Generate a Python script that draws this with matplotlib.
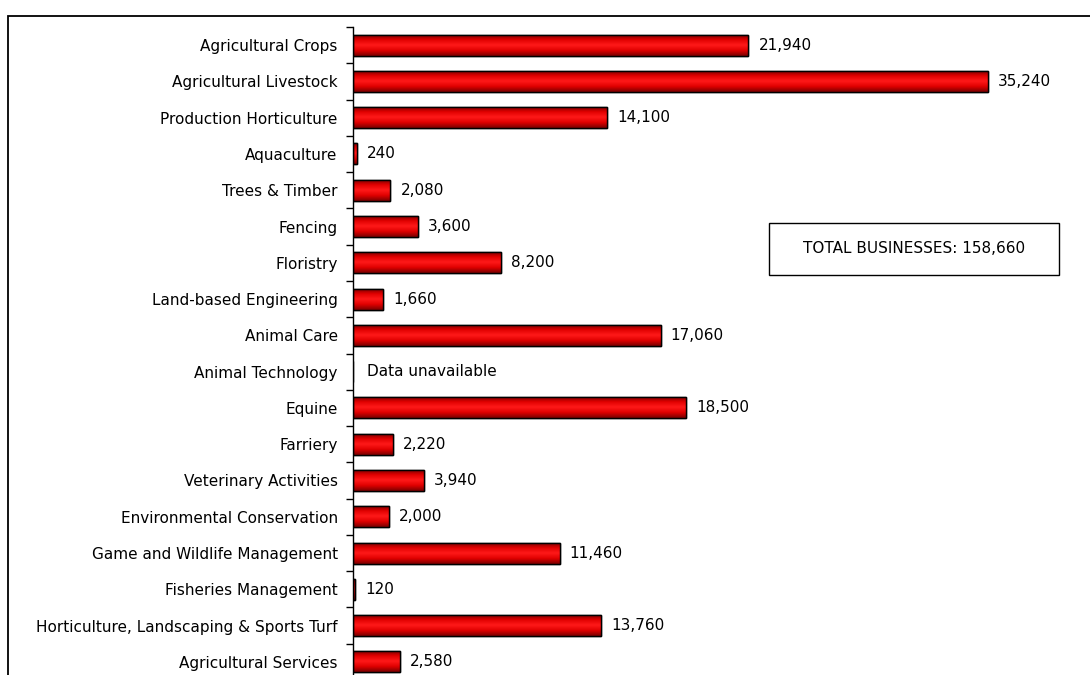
import numpy as np
import matplotlib.pyplot as plt
from matplotlib.colors import LinearSegmentedColormap
from matplotlib.patches import Rectangle

# businesses per industry segment
segments = [
    "Agricultural Crops", "Agricultural Livestock", "Production Horticulture",
    "Aquaculture", "Trees & Timber", "Fencing", "Floristry",
    "Land-based Engineering", "Animal Care", "Animal Technology", "Equine",
    "Farriery", "Veterinary Activities", "Environmental Conservation",
    "Game and Wildlife Management", "Fisheries Management",
    "Horticulture, Landscaping & Sports Turf", "Agricultural Services",
]
businesses = [21940, 35240, 14100, 240, 2080, 3600, 8200, 1660, 17060, None,
              18500, 2220, 3940, 2000, 11460, 120, 13760, 2580]
total_label = "TOTAL BUSINESSES: 158,660"

plt.rcParams['font.family'] = ['DejaVu Sans']
W, H = 1090, 675

fig = plt.figure(figsize=(W / 100, H / 100), dpi=100)
ax = fig.add_axes([353 / W, -5 / H, 721 / W, 653 / H])

# outer frame round the whole chart
fig.patches.append(Rectangle((8 / W, -0.05), 1.1, 1 - 16 / H + 0.05,
                             transform=fig.transFigure, fill=False,
                             edgecolor='black', linewidth=1.3))

ypos = np.arange(len(segments))
vals = [v if v is not None else 0 for v in businesses]
bars = ax.barh(ypos, vals, height=0.58, color='red', edgecolor='black',
               linewidth=1.0, zorder=2)

# shaded fill: dark edges, bright middle
shade = LinearSegmentedColormap.from_list(
    'shade', ['#6a0000', '#e00000', '#ff1a1a', '#e00000', '#7a0000'])
grad = np.linspace(0, 1, 64).reshape(-1, 1)
for b, v in zip(bars, businesses):
    if not v:
        continue
    x0, y0 = b.get_x(), b.get_y()
    im = ax.imshow(grad, cmap=shade, aspect='auto', interpolation='bicubic',
                   extent=(x0, x0 + b.get_width(), y0 + b.get_height(), y0),
                   zorder=2.5)
    im.set_clip_path(b)
    outline = Rectangle((x0, y0), b.get_width(), b.get_height(), fill=False,
                        edgecolor='black', linewidth=1.0, zorder=3)
    ax.add_patch(outline)

for y, v in zip(ypos, businesses):
    if v is None:
        ax.text(800, y, "Data unavailable", va='center', ha='left', fontsize=11)
    else:
        ax.text(v + 550, y, f"{v:,}", va='center', ha='left', fontsize=11)

ax.set_xlim(0, 40000)
ax.set_ylim(len(segments) - 0.5, -0.5)
ax.set_yticks(ypos)
ax.set_yticklabels(segments, fontsize=11)
ax.set_yticks(np.arange(-0.5, len(segments)), minor=True)
ax.tick_params(axis='y', which='major', length=0, pad=11)
ax.tick_params(axis='y', which='minor', length=5, width=1, direction='out')
ax.set_xticks([])
for side in ['top', 'right', 'bottom']:
    ax.spines[side].set_visible(False)
ax.spines['left'].set_linewidth(1.0)

# total box
fig.patches.append(Rectangle((769 / W, 1 - 275 / H), 290 / W, 52 / H,
                             transform=fig.transFigure, facecolor='white',
                             edgecolor='black', linewidth=1.0))
fig.text(914 / W, 1 - 249 / H, total_label, ha='center', va='center',
         fontsize=11)

fig.savefig('out.png', dpi=100)
